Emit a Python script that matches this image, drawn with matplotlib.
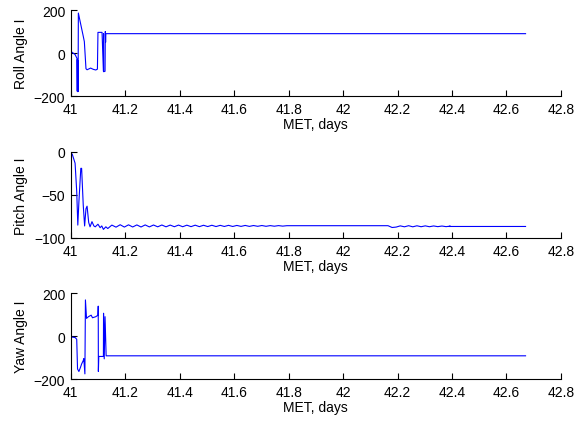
import numpy as np
import matplotlib
matplotlib.use("Agg")
import matplotlib.pyplot as plt
from matplotlib.ticker import FormatStrFormatter

plt.rcParams['font.family'] = ['Liberation Sans', 'DejaVu Sans']
plt.rcParams['font.size'] = 10

# Roll angle history (MET days, degrees)
roll_t = [41.0, 41.016, 41.023, 41.0240, 41.0245, 41.0250, 41.0255, 41.0260,
          41.0265, 41.0270, 41.028, 41.046,
          41.050, 41.056, 41.060, 41.073, 41.083, 41.092, 41.098, 41.100,
          41.115, 41.120, 41.1205, 41.121, 41.126, 41.127, 41.128, 41.129, 42.67]
roll_v = [8, -7, -25, -178, -30, -176, -35, -180,
          -40, -178, 186, 78,
          53, -73, -78, -70, -76, -79, -75, 96,
          96, -85, 90, -87, -85, 100, 50, 90, 90]

# Pitch angle history: initial transient
pitch_t0 = [41.0, 41.006, 41.016, 41.022, 41.026, 41.030, 41.037, 41.040,
            41.046, 41.051, 41.056, 41.060, 41.066, 41.071, 41.078, 41.085,
            41.090, 41.100, 41.108, 41.114, 41.120, 41.129, 41.136, 41.151]
pitch_v0 = [0, -3, -13, -46, -85, -58, -19, -19,
            -62, -86, -66, -63, -82, -87, -81, -86,
            -87, -84, -88, -86, -90, -87, -89, -85]
# settling ripple after the transient, sampled every half-period
ripple_step = 0.0153
ripple_v1 = [-87.4, -84.6, -87.3, -84.7, -87.2, -84.8, -87.2, -84.8, -87.1, -84.9,
             -87.0, -84.9, -87.0, -85.0, -86.9, -85.0, -86.9, -85.1, -86.8, -85.1,
             -86.8, -85.2, -86.7, -85.2, -86.7, -85.3, -86.6, -85.3, -86.6, -85.4,
             -86.5, -85.4, -86.5, -85.5, -86.4, -85.5, -86.4, -85.6, -86.3, -85.6,
             -86.2, -85.7]
# quiet stretch, second disturbance and final hold
pitch_t2 = [41.80, 42.165, 42.180, 42.195, 42.210]
pitch_v2 = [-85.7, -85.7, -87.8, -87.3, -85.9]
ripple_v2 = [-87.0, -85.7, -87.0, -85.8, -86.9, -85.9, -86.9, -86.0, -86.8, -86.1,
             -86.8, -86.2]
pitch_t3 = [42.39, 42.67]
pitch_v3 = [-86.6, -86.6]

# Yaw angle history
yaw_t = [41.0, 41.016, 41.022, 41.025, 41.030, 41.036, 41.040, 41.046,
         41.048, 41.052, 41.054, 41.058, 41.065, 41.075, 41.080, 41.092,
         41.100, 41.101, 41.1015, 41.103, 41.120, 41.1205, 41.123, 41.126,
         41.130, 42.67]
yaw_v = [-4, -7, -15, -153, -165, -145, -130, -114,
         -105, -176, 168, 82, 90, 97, 85, 90,
         97, 139, -165, -95, -95, 106, -106, 90,
         -92, -92]

# assemble the pitch series
ripple_t1 = [41.151 + ripple_step * (i + 1) for i in range(len(ripple_v1))]
ripple_t2 = [42.210 + ripple_step * (i + 1) for i in range(len(ripple_v2))]
pitch_t = pitch_t0 + ripple_t1 + pitch_t2 + ripple_t2 + pitch_t3
pitch_v = pitch_v0 + ripple_v1 + pitch_v2 + ripple_v2 + pitch_v3

fig = plt.figure(figsize=(5.85, 4.27), dpi=100)

panels = [
    (roll_t, roll_v, 'Roll Angle I', (-200, 200), [-200, 0, 200], 0.7728),
    (pitch_t, pitch_v, 'Pitch Angle I', (-100, 0), [-100, -50, 0], 0.4403),
    (yaw_t, yaw_v, 'Yaw Angle I', (-200, 200), [-200, 0, 200], 0.1100),
]

for t, v, name, ylim, yticks, bottom in panels:
    ax = fig.add_axes([0.1209, bottom, 0.838, 0.2014])
    ax.plot(t, v, color='blue', lw=0.8)
    ax.set_xlim(41, 42.8)
    ax.set_xticks(np.arange(41, 42.81, 0.2))
    ax.xaxis.set_major_formatter(FormatStrFormatter('%g'))
    ax.set_ylim(*ylim)
    ax.set_yticks(yticks)
    ax.set_xlabel('MET, days', labelpad=1)
    ax.set_ylabel(name, labelpad=4)
    for side in ('top', 'right'):
        ax.spines[side].set_visible(False)
    for side in ('left', 'bottom'):
        ax.spines[side].set_linewidth(0.8)
    ax.tick_params(direction='in', length=4.5, width=0.8, top=False, right=False,
                   pad=4, labelsize=10)

fig.savefig('out.png', dpi=100)
